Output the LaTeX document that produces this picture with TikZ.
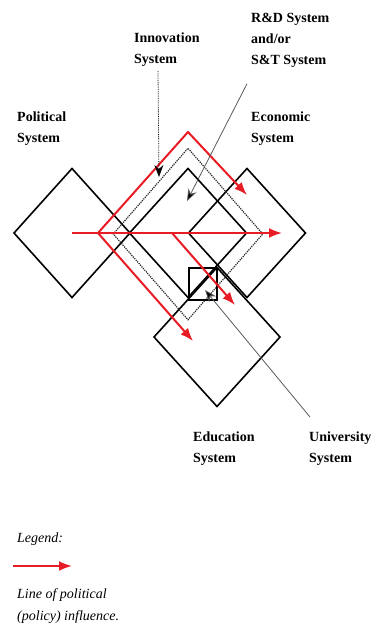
\documentclass[tikz,border=0pt]{standalone}
\usepackage{fontspec}
\setmainfont{Liberation Serif}
\usetikzlibrary{arrows.meta,positioning,shapes.geometric}
\definecolor{policyred}{RGB}{232,28,36}
\tikzset{
  >=stealth,
  line join=round,
  sysbox/.style={draw, diamond, inner sep=0pt, outer sep=0pt, line width=1.6pt},
  label/.style={font=\fontsize{14}{21}\selectfont\bfseries, align=left, inner sep=0pt, anchor=north west},
  legendtext/.style={font=\fontsize{14}{22}\selectfont\itshape, align=left, inner sep=0pt, anchor=north west},
  policy/.style={draw=policyred, line width=2pt, -{Latex[length=13pt,width=10pt]}},
  pointer/.style={draw=gray!70!black, line width=0.8pt, -{Stealth[length=12pt,width=9pt,fill=black]}},
}

\begin{document}
\begin{tikzpicture}[x=1pt, y=-1pt]
    \useasboundingbox (0,0) rectangle (372,625);

    % systems
    \node[sysbox, minimum width=116pt, minimum height=129pt] (pol) at (72,233) {};
    \node[sysbox, minimum width=117pt, minimum height=129pt] (rd) at (188,233) {};
    \node[sysbox, minimum width=117pt, minimum height=129pt] (eco) at (247,233) {};
    \node[sysbox, minimum width=126pt, minimum height=139pt] (edu) at (217,337) {};
    \node[draw, diamond, inner sep=0pt, densely dotted, line width=1.2pt, gray!30!black,
          minimum width=150pt, minimum height=172pt] (inno) at (188,234) {};
    \node[draw, rectangle, inner sep=0pt, line width=1.1pt,
          minimum width=28pt, minimum height=32pt] (uni) at (203,284) {};

    % lines of political influence
    \coordinate (fork) at (98,233);
    \draw[policy] (pol.center) -- (282,233);
    \draw[policy] (fork) -- (188,132) -- (247,195);
    \draw[policy] (fork) -- (193,341);
    \draw[policy] (172,233) -- (235,305);

    % labels
    \node[label] (innoL) at (134,33) {Innovation\\System};
    \node[label] (rdL) at (251,13) {R\&D System\\and/or\\S\&T System};
    \node[label] (polL) at (17,112) {Political\\System};
    \node[label] (ecoL) at (251,112) {Economic\\System};
    \node[label] (eduL) at (193,432) {Education\\System};
    \node[label] (uniL) at (309,432) {University\\System};

    \coordinate (innoTip) at (159,177);
    \coordinate (rdTip) at (187,201);
    \coordinate (uniTip) at (205,290);
    \draw[pointer, densely dotted, draw=black] ([xshift=24pt,yshift=-4pt]innoL.south west) -- (innoTip);
    \draw[pointer] ([shift={(-4,16)}]rdL.south west) -- (rdTip);
    \draw[pointer] ([shift={(1,-15)}]uniL.north west) -- (uniTip);

    % legend
    \node[legendtext] (legL) at (17,533) {Legend:};
    \coordinate (legA) at (13,566);
    \coordinate (legB) at (72,566);
    \draw[policy] (legA) -- (legB);
    \node[legendtext] (legT) at (17,588) {Line of political\\(policy) influence.};
\end{tikzpicture}
\end{document}
